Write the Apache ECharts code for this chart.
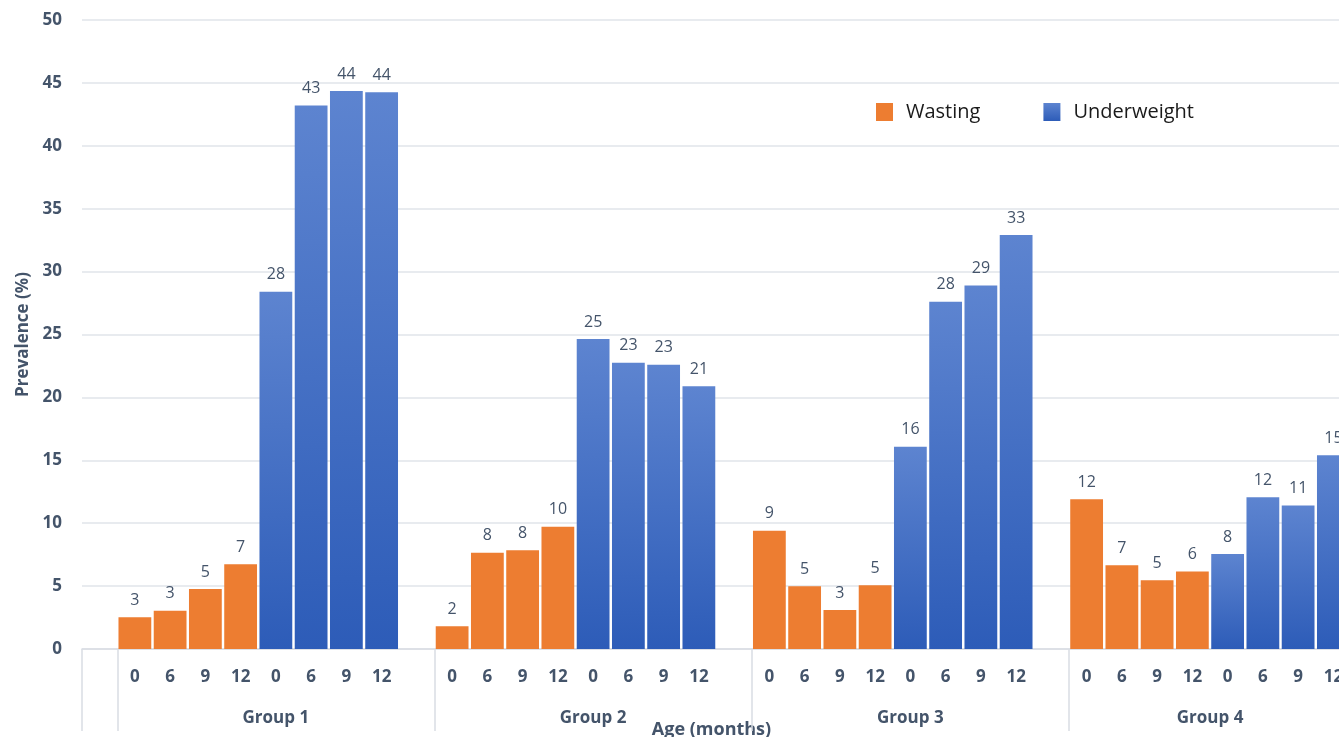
<!DOCTYPE html>
<html>
<head>
<meta charset="utf-8">
<script src="https://cdn.jsdelivr.net/npm/echarts@6/dist/echarts.min.js"></script>
<style>html,body{margin:0;padding:0;background:#fff;}#c{width:1339px;height:737px;}</style>
</head>
<body>
<div id="c"></div>
<script>
// ---- data ----
const groups = ['Group 1', 'Group 2', 'Group 3', 'Group 4'];
const ages = ['0', '6', '9', '12'];
const wasting = [
  [2.52, 3.05, 4.77, 6.73],
  [1.8, 7.66, 7.84, 9.72],
  [9.4, 4.98, 3.1, 5.06],
  [11.9, 6.65, 5.46, 6.17]
];
const underweight = [
  [28.4, 43.2, 44.36, 44.25],
  [24.64, 22.76, 22.6, 20.88],
  [16.08, 27.6, 28.9, 32.9],
  [7.55, 12.06, 11.4, 15.4]
];
const yTicks = [0, 5, 10, 15, 20, 25, 30, 35, 40, 45, 50];

// ---- build category slots: one blank, then per group 8 bars (+1 blank except last group) ----
const cats = [], ageLab = [], wData = [], uData = [], groupLab = [], boundaries = [0];
cats.push('b0'); ageLab.push(''); wData.push('-'); uData.push('-'); groupLab.push('');
groups.forEach((g, gi) => {
  boundaries.push(cats.length);
  const start = cats.length;
  const last = gi === groups.length - 1;
  ages.forEach((a, ai) => { cats.push(g + 'W' + a); ageLab.push(a); wData.push(wasting[gi][ai]); uData.push('-'); });
  ages.forEach((a, ai) => { cats.push(g + 'U' + a); ageLab.push(a); wData.push('-'); uData.push(underweight[gi][ai]); });
  if (!last) { cats.push(g + 'gap'); ageLab.push(''); wData.push('-'); uData.push('-'); }
  for (let k = start; k < cats.length; k++) {
    groupLab.push(k === start + 4 ? (last ? '{half|' + g + '}' : g) : '');
  }
});

const textCol = '#44546A';
const labelCfg = {
  show: true, position: 'top', distance: 9, color: textCol, fontSize: 16,
  fontFamily: 'Open Sans',
  formatter: p => Math.round(p.value)
};
const blueGrad = new echarts.graphic.LinearGradient(0, 0, 0, 1, [
  { offset: 0, color: '#5D84D0' }, { offset: 1, color: '#2D5CB8' }
]);

const chart = echarts.init(document.getElementById('c'));
chart.setOption({
  animation: false,
  backgroundColor: '#fff',
  grid: { left: 82, top: 20, bottom: 88, right: -12, containLabel: false, outerBoundsMode: 'none' },
  legend: {
    left: 876, top: 102, padding: 0, itemWidth: 17, itemHeight: 18, itemGap: 63,
    icon: 'rect',
    textStyle: { fontSize: 20, color: '#1a1a1a', fontFamily: 'Open Sans', padding: [0, 0, 0, 8] },
    data: ['Wasting', 'Underweight']
  },
  xAxis: [{
    type: 'category', data: cats, boundaryGap: true,
    axisLine: { show: true, lineStyle: { color: '#D9DDE3', width: 1.5 } },
    axisTick: {
      show: true, length: 82, lineStyle: { color: '#D9DDE3', width: 1.5 },
      interval: (i) => boundaries.indexOf(i) >= 0
    },
    axisLabel: {
      interval: 0, margin: 20, color: textCol, fontSize: 17, fontWeight: 'bold',
      fontFamily: 'Open Sans',
      formatter: (v, i) => ageLab[i]
    },
    name: 'Age (months)', nameLocation: 'middle', nameGap: 72,
    nameTextStyle: { color: textCol, fontSize: 18, fontWeight: 'bold', fontFamily: 'Open Sans', padding: [0, 10, 0, 0] }
  }, {
    type: 'category', data: cats, position: 'bottom', boundaryGap: true,
    axisLine: { show: false }, axisTick: { show: false },
    axisLabel: {
      interval: 0, margin: 61, color: textCol, fontSize: 17, fontWeight: 'bold',
      fontFamily: 'Open Sans',
      formatter: (v, i) => groupLab[i],
      rich: {
        half: { color: textCol, fontSize: 17, fontWeight: 'bold', fontFamily: 'Open Sans', padding: [0, 35, 0, 0] }
      }
    }
  }],
  yAxis: {
    type: 'value', min: 0, max: 50, interval: 5,
    axisLine: { show: false }, axisTick: { show: false },
    splitLine: { lineStyle: { color: '#E1E5EA', width: 1.5 } },
    axisLabel: {
      margin: 20, color: textCol, fontSize: 17, fontWeight: 'bold', fontFamily: 'Open Sans',
      formatter: v => yTicks.indexOf(v) >= 0 ? String(v) : ''
    },
    name: 'Prevalence (%)', nameLocation: 'middle', nameGap: 50, nameRotate: 90,
    nameTextStyle: { color: textCol, fontSize: 17, fontWeight: 'bold', fontFamily: 'Open Sans' }
  },
  series: [{
    name: 'Wasting', type: 'bar', data: wData, barGap: '-100%', barCategoryGap: '7%',
    itemStyle: { color: '#ED7D31' }, label: labelCfg
  }, {
    name: 'Underweight', type: 'bar', data: uData, barGap: '-100%', barCategoryGap: '7%',
    itemStyle: { color: blueGrad }, label: labelCfg
  }]
});
</script>
</body>
</html>
